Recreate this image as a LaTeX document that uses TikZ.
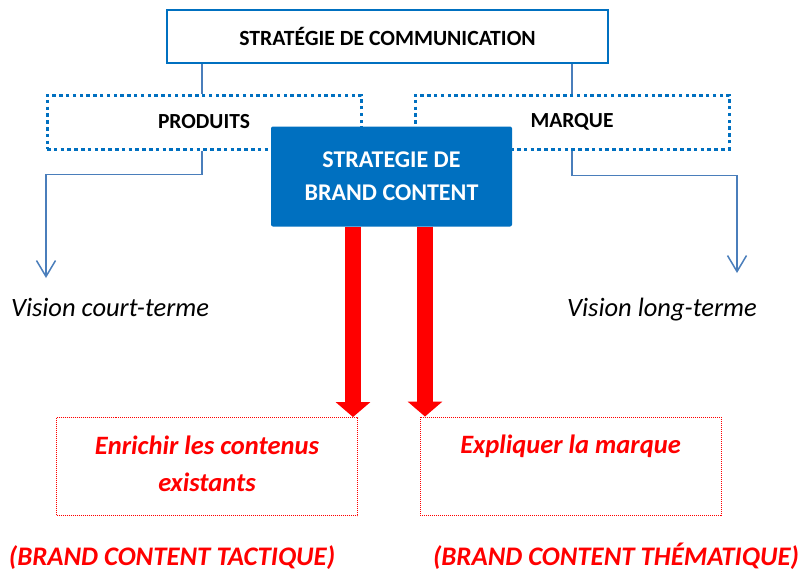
\documentclass[tikz,border=0pt]{standalone}
\usepackage{fontspec}
\setmainfont{Carlito}
\usetikzlibrary{positioning,arrows.meta}
\definecolor{brandblue}{HTML}{0070C0}
\definecolor{linkblue}{HTML}{4A7EBB}
\definecolor{alert}{HTML}{FF0000}

\begin{document}
\begin{tikzpicture}[x=1pt, y=-1pt,
  topbox/.style={draw=brandblue, line width=2.8pt, fill=white,
                 minimum width=441pt, minimum height=53pt,
                 font=\fontsize{21.7}{25}\selectfont\bfseries},
  dotbox/.style={draw=brandblue, line width=3pt, dash pattern=on 3.5pt off 3.3pt,
                 minimum width=314pt, minimum height=54pt,
                 font=\fontsize{21.5}{25}\selectfont\bfseries},
  corebox/.style={fill=brandblue, rounded corners=2pt, text=white, align=center,
                  minimum width=241pt, minimum height=100pt,
                  font=\fontsize{24}{33}\selectfont\bfseries},
  goalbox/.style={draw=alert, line width=0.9pt, dash pattern=on 1pt off 1pt,
                  minimum width=301pt, minimum height=98pt},
  goaltxt/.style={text=alert, align=center, anchor=north,
                  font=\fontsize{26.5}{37.5}\selectfont\bfseries\itshape},
  tagtxt/.style={text=alert, anchor=base, font=\fontsize{26.8}{30}\selectfont\bfseries\itshape},
  vision/.style={anchor=base, font=\fontsize{26.5}{30}\selectfont\itshape},
  link/.style={draw=linkblue, line width=1.5pt},
  bigarrow/.style={draw=alert, line width=16pt, -{Triangle[length=15pt,width=34pt]}}
]
\useasboundingbox[fill=white] (0,0) rectangle (802,574);

% top level
\node[topbox] (comm) at (387.5,36.5) {STRATÉGIE DE COMMUNICATION};

% two axes
\node[dotbox] (produits) at (204,122) {PRODUITS};
\node[dotbox] (marque) at (572,122) {MARQUE};

\draw[link] ([xshift=-185.5pt]comm.south) -- ([xshift=-2pt]produits.north);
\draw[link] ([xshift=184.5pt]comm.south) -- (marque.north);

% brand content core
\node[corebox] (brand) at (391.5,176.5) {STRATEGIE DE\\BRAND CONTENT};

% time horizons
\coordinate (courtend) at (46,278);
\coordinate (longend) at (737,273);
\draw[link, -{Straight Barb[length=16pt,width=19pt]}]
  ([xshift=-2pt]produits.south) -- ++(0,24) -| (courtend);
\draw[link, -{Straight Barb[length=16pt,width=19pt]}]
  (marque.south) -- ++(0,25) -| (longend);

\node[vision] (court) at (110,316) {Vision court-terme};
\node[vision] (long) at (662,316) {Vision long-terme};

% goals
\node[goalbox] (enrichir) at (207,466.5) {};
\node[goalbox] (expliquer) at (570.5,466) {};
\node[goaltxt] (enrichirtxt) at ([yshift=-15pt]enrichir.north) {Enrichir les contenus\\existants};
\node[goaltxt] (expliquertxt) at ([yshift=-15pt]expliquer.north) {Expliquer la marque};

\draw[bigarrow] ([xshift=-38.5pt]brand.south) -- ([xshift=-38.5pt]brand.south |- enrichir.north);
\draw[bigarrow] ([xshift=33.5pt]brand.south) -- ([xshift=33.5pt]brand.south |- expliquer.north);

\node[tagtxt] (tactique) at (172,565) {(BRAND CONTENT TACTIQUE)};
\node[tagtxt] (thematique) at (616,565) {(BRAND CONTENT THÉMATIQUE)};
\end{tikzpicture}
\end{document}
